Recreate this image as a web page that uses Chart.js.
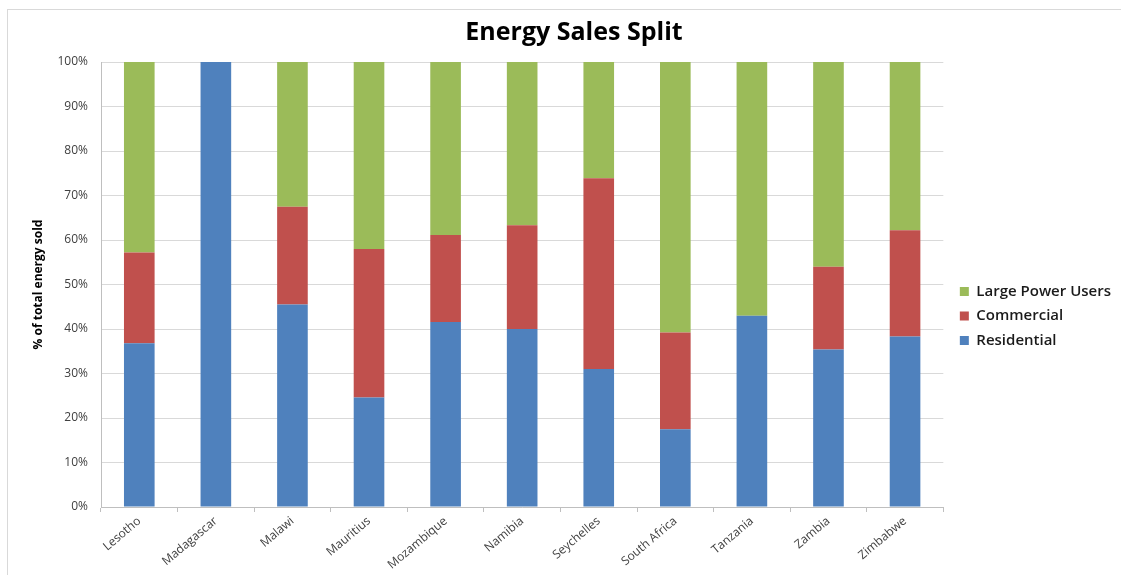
<!DOCTYPE html>
<html>
<head>
<meta charset="utf-8">
<script src="https://cdn.jsdelivr.net/npm/chart.js@4.4.1/dist/chart.umd.min.js"></script>
<style>
  html, body { margin: 0; padding: 0; background: #ffffff; }
  #wrap { position: relative; width: 1121px; height: 575px; }
  #frame { position: absolute; left: 7px; top: 9px; width: 1114px; height: 566px; border-top: 1px solid #d9d9d9; border-left: 1px solid #d9d9d9; box-sizing: border-box; }
  canvas { position: absolute; left: 0; top: 0; }
</style>
</head>
<body>
<div id="wrap">
  <div id="frame"></div>
  <canvas id="c" width="1121" height="575"></canvas>
</div>
<script>
const categories = ["Lesotho", "Madagascar", "Malawi", "Mauritius", "Mozambique", "Namibia", "Seychelles", "South Africa", "Tanzania", "Zambia", "Zimbabwe"];
const residential = [36.8, 100, 45.5, 24.6, 41.6, 40.0, 31.0, 17.5, 43.0, 35.4, 38.3];
const commercial  = [20.4, 0, 22.0, 33.4, 19.5, 23.3, 42.9, 21.7, 0, 18.6, 23.9];
const largePower  = [42.8, 0, 32.5, 42.0, 38.9, 36.7, 26.1, 60.8, 57.0, 46.0, 37.8];
const yTicks = [0, 10, 20, 30, 40, 50, 60, 70, 80, 90, 100];

const FONT = "'Open Sans', 'Liberation Sans', sans-serif";

new Chart(document.getElementById('c'), {
  type: 'bar',
  data: {
    labels: categories,
    datasets: [
      { label: 'Residential', data: residential, backgroundColor: '#4F81BD' },
      { label: 'Commercial', data: commercial, backgroundColor: '#C0504D' },
      { label: 'Large Power Users', data: largePower, backgroundColor: '#9BBB59' }
    ]
  },
  options: {
    responsive: false,
    animation: false,
    devicePixelRatio: 1,
    categoryPercentage: 1,
    barPercentage: 0.4,
    layout: { padding: { left: 27, top: 12, right: 0, bottom: 5 } },
    plugins: {
      title: {
        display: true,
        text: 'Energy Sales Split',
        color: '#000000',
        font: { family: FONT, size: 25, weight: 'bold' },
        padding: { top: 6, bottom: 14 }
      },
      legend: {
        position: 'right',
        reverse: true,
        title: { display: true, text: ' ', font: { size: 10 }, padding: { top: 19, bottom: 19 } },
        labels: {
          boxWidth: 9,
          boxHeight: 9,
          padding: 9.5,
          color: '#1a1a1a',
          font: { family: FONT, size: 15, weight: '600' }
        }
      },
      tooltip: { enabled: false }
    },
    scales: {
      x: {
        stacked: true,
        grid: { display: true, drawOnChartArea: false, offset: true, tickLength: 5, color: '#bfbfbf' },
        border: { color: '#bfbfbf' },
        ticks: { maxRotation: 40, minRotation: 40, color: '#404040', font: { family: FONT, size: 12 }, padding: 2 },
        afterFit: s => { s.height = 63; }
      },
      y: {
        stacked: true,
        min: 0,
        max: 100,
        afterBuildTicks: s => { s.ticks = yTicks.map(v => ({ value: v })); },
        grid: { color: '#d9d9d9', drawTicks: false },
        border: { color: '#bfbfbf' },
        ticks: { padding: 13, color: '#404040', font: { family: FONT, size: 12 }, callback: v => v + '%' },
        title: { display: true, text: '% of total energy sold', color: '#000000', font: { family: FONT, size: 12, weight: 'bold' }, padding: 4 },
        afterFit: s => { s.width = 74; }
      },
      spacer: {
        position: 'right',
        display: true,
        grid: { display: false, drawTicks: false },
        border: { display: false },
        ticks: { display: false },
        afterFit: s => { s.width = 7; }
      }
    }
  }
});
</script>
</body>
</html>
